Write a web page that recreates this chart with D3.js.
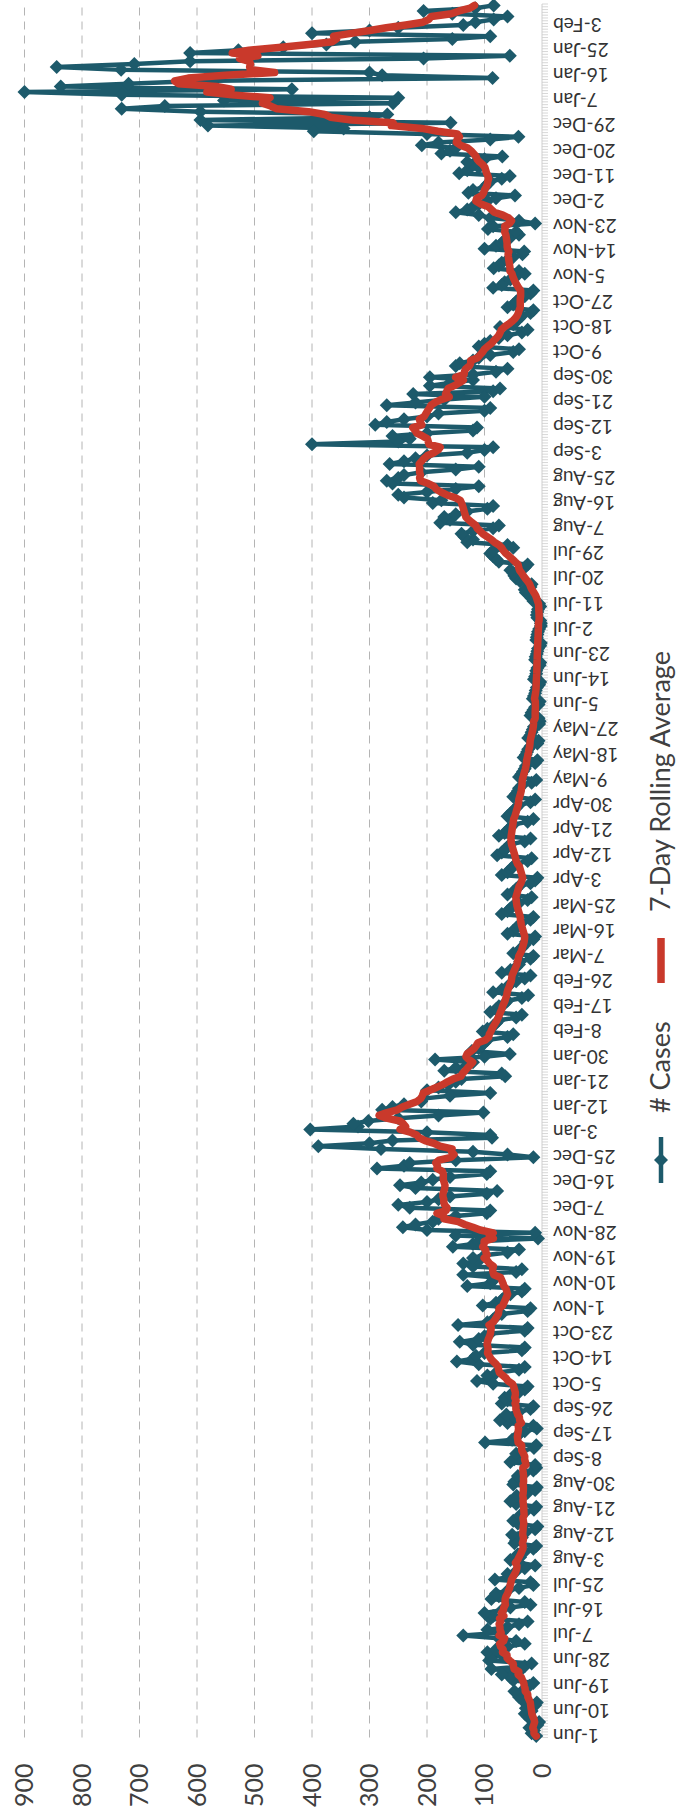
<!DOCTYPE html>
<html>
<head>
<meta charset="utf-8">
<script src="https://cdn.jsdelivr.net/npm/d3@7"></script>
<style>
html,body{margin:0;padding:0;background:#fff;}
svg{display:block;}
</style>
</head>
<body>
<svg id="chart" width="678" height="1820"></svg>
<script>
// ---------------- DATA ----------------
const startDate = "2020-06-01";
// daily case counts, one value per day from 1-Jun-2020 to 10-Feb-2022
const cases2020 = [
  // Jun 2020
  10,18,14,22,8,5,20, 25,30,18,28,12,9,35, 40,32,48,30,22,15,50, 55,70,40,88,30,18,92, 88,70,
  // Jul 2020
  95,80,60,30,45,75,137, 70,95,60,40,25,90,85, 100,70,55,20,30,88,75, 80,60,40,15,20,82,55, 60,45,30,
  // Aug 2020
  12,40,55,38,42,30,15, 10,48,45,35,52,28,12, 8,42,50,40,38,30,14, 10,45,55,36,44,25,12, 9,50,48,
  // Sep 2020
  38,42,30,15,10,12,55, 48,40,45,35,14,10,99, 52,45,40,30,9,15,60, 73,48,62,40,20,15,70, 60,65,
  // Oct 2020
  55,40,30,25,85,113,90, 95,80,40,30,110,148,120, 115,100,35,30,120,143,110, 100,90,30,25,146,95,85, 80,70,25,
  // Nov 2020
  20,103,80,70,65,55,35, 30,130,90,85,80,137,45, 35,120,137,110,120,100,60, 40,155,120,110,7,150,12, 200,242,
  // Dec 2020
  220,190,180,150,96,90,230, 250,200,180,160,96,78,220, 247,210,190,160,96,90,287, 240,230,150,15,60,120,280, 389,300,260
];
const cases2021 = [
  // Jan 2021
  87,90,200,403,320,328,302, 250,180,102,278,260,240,210, 207,160,90,200,180,163,150, 140,64,70,170,150,130,120, 186,100,56,
  // Feb 2021
  122,110,105,100,95,60,50, 103,95,85,80,75,45,35, 90,80,75,65,60,35,24, 85,70,60,55,45,30,20,
  // Mar 2021
  70,55,45,40,38,20,15, 50,40,35,30,28,15,12, 60,50,45,40,35,20,15, 70,60,55,50,40,25,18, 60,50,45,
  // Apr 2021
  40,20,12,8,70,60,55, 50,45,25,18,78,70,65, 60,55,30,20,75,65,60, 55,50,25,15,60,55,50, 45,40,
  // May 2021
  20,12,50,45,42,40,35, 18,10,40,36,33,30,28, 12,8,32,28,26,24,20, 8,6,24,20,18,16,14, 5,4,6,
  // Jun 2021
  20,18,15,12,6,4,16, 14,12,11,9,5,3,14, 12,10,10,8,4,3,12, 11,9,8,7,3,2,10, 9,8,
  // Jul 2021
  7,5,2,2,3,8,9, 8,7,3,5,15,18,22, 28,30,20,18,38,45,48, 50,55,30,25,75,80,85, 90,85,50,
  // Aug 2021
  60,130,120,135,140,120,85, 75,177,160,170,150,130,95, 85,190,175,240,250,200,150, 110,260,270,250,240,210,150, 110,265,240,
  // Sep 2021
  220,200,130,100,85,400,250, 230,260,200,120,113,290,270, 240,200,180,100,90,270,220, 170,100,224,85,73,195,160, 120,195,
  // Oct 2021
  120,80,60,150,143,120,110, 90,50,40,110,100,90,75, 60,35,25,73,50,45,40, 35,20,15,60,50,45,40, 30,20,15,
  // Nov 2021
  85,70,65,55,45,30,40, 84,75,70,60,50,34,31, 100,80,70,65,55,40,45, 94,85,12,40,90,110,150, 130,120,
  // Dec 2021
  110,95,80,47,128,120,100, 95,90,70,56,144,130,110, 120,130,100,69,175,160,150, 209,180,90,41,200,397,345, 581,159,594
];
const cases2022 = [
  // Jan 2022
  300,269,594,731,656,259,553, 250,731,900,435,837,719,600, 86,278,300,732,844,709,612, 206,56,612,528,450,375,325, 156,90,400,
  // Feb 2022
  300,250,137,116,84,60,156, 206,116,84
];
const valueTicks = [0,100,200,300,400,500,600,700,800,900];
const dateLabelStep = 9;            // a date label every 9th day
const seriesNames = ["# Cases", "7-Day Rolling Average"];
const rollingWindow = 7;

// ---------------- BUILD ----------------
const dailyCases = cases2020.concat(cases2021, cases2022);
const t0 = d3.utcParse("%Y-%m-%d")(startDate);
const dates = dailyCases.map((_, i) => d3.utcDay.offset(t0, i));
const fmt = d3.utcFormat("%-d-%b");

const rolling = dailyCases.map((_, i) => {
  const s = dailyCases.slice(Math.max(0, i - rollingWindow + 1), i + 1);
  return d3.mean(s);
});

const blue = "#1d5a6b";
const red = "#c9392b";
const font = "Lato, 'Open Sans', sans-serif";

// Chart is laid out unrotated (1820 wide x 678 tall), then turned 90° CCW.
const W = 1820;
const svg = d3.select("#chart");
const g = svg.append("g").attr("transform", `translate(0,${W}) rotate(-90)`);

const idx = d3.range(dailyCases.length);
const x = d3.scalePoint().domain(idx).range([82.5, 1816]).padding(0.5);
const y = d3.scaleLinear().domain([0, 900]).range([542, 24.5]);
const step = x.step();

// gridlines
g.append("g").selectAll("line")
  .data(valueTicks.filter(v => v > 0))
  .join("line")
  .attr("x1", 82.5).attr("x2", 1816)
  .attr("y1", d => y(d)).attr("y2", d => y(d))
  .attr("stroke", "#b4b4b4").attr("stroke-width", 1)
  .attr("stroke-dasharray", "8,6");

// value axis labels
const ya = g.append("g").attr("transform", "translate(82.5,0)")
  .call(d3.axisLeft(y).tickValues(valueTicks).tickSize(0).tickPadding(26));
ya.select(".domain").remove();
ya.selectAll("text").attr("font-family", font).attr("font-size", 25).attr("fill", "#404040");

// category axis: ruler ticks
const axisG = g.append("g");
axisG.append("line").attr("x1", 82.5).attr("x2", 1816).attr("y1", 542).attr("y2", 542)
  .attr("stroke", "#cfcfcf").attr("stroke-width", 1);
axisG.selectAll("line.tk").data(d3.range(dailyCases.length + 1)).join("line")
  .attr("class", "tk")
  .attr("x1", i => 82.5 + i * step).attr("x2", i => 82.5 + i * step)
  .attr("y1", 542).attr("y2", 548)
  .attr("stroke", "#cdcdcd").attr("stroke-width", 0.8);

// category axis labels
const labelIdx = idx.filter(i => i % dateLabelStep === 0);
const xa = g.append("g").attr("transform", "translate(0,542)")
  .call(d3.axisBottom(x).tickValues(labelIdx).tickFormat(i => fmt(dates[i])).tickSize(0));
xa.select(".domain").remove();
xa.selectAll("text")
  .attr("transform", "rotate(-90)")
  .attr("x", -11).attr("y", 0).attr("dy", "0.35em")
  .attr("text-anchor", "end")
  .attr("font-family", font).attr("font-size", 19).attr("fill", "#333");

// # Cases series
const line = d3.line().x((d, i) => x(i)).y(d => y(d));
g.append("path").datum(dailyCases)
  .attr("d", line).attr("fill", "none")
  .attr("stroke", blue).attr("stroke-width", 4.5).attr("stroke-linejoin", "round");
const diamond = r => `M0,${-r}L${r},0L0,${r}L${-r},0Z`;
g.append("g").selectAll("path").data(dailyCases).join("path")
  .attr("transform", (d, i) => `translate(${x(i)},${y(d)})`)
  .attr("d", diamond(7)).attr("fill", blue);

// rolling average
g.append("path").datum(rolling)
  .attr("d", line).attr("fill", "none")
  .attr("stroke", red).attr("stroke-width", 7.5)
  .attr("stroke-linejoin", "round").attr("stroke-linecap", "round");

// legend
const lg = g.append("g");
lg.append("line").attr("x1", 637).attr("x2", 683).attr("y1", 661).attr("y2", 661)
  .attr("stroke", blue).attr("stroke-width", 4.5);
lg.append("path").attr("transform", "translate(660,661)").attr("d", diamond(7)).attr("fill", blue);
lg.append("text").attr("x", 707).attr("y", 670).text(seriesNames[0])
  .attr("font-family", font).attr("font-size", 27).attr("fill", "#404040");
lg.append("line").attr("x1", 837).attr("x2", 882).attr("y1", 661).attr("y2", 661)
  .attr("stroke", red).attr("stroke-width", 7.5);
lg.append("text").attr("x", 908).attr("y", 670).text(seriesNames[1])
  .attr("font-family", font).attr("font-size", 27).attr("fill", "#404040");
</script>
</body>
</html>
